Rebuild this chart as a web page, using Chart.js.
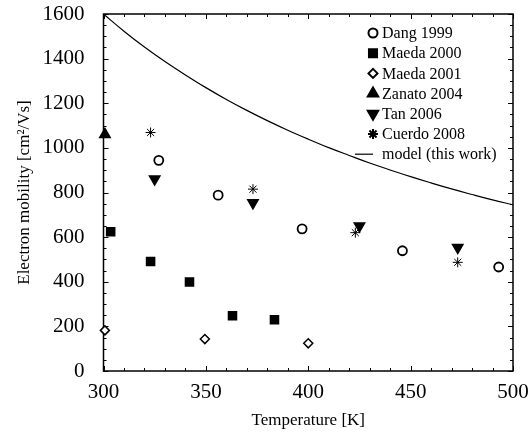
<!DOCTYPE html>
<html>
<head>
<meta charset="utf-8">
<script src="https://cdn.jsdelivr.net/npm/chart.js@4.4.1/dist/chart.umd.min.js"></script>
<style>
	html, body { margin: 0; padding: 0; background: #fff; }
	#box { width: 530px; height: 435px; }
</style>
</head>
<body>
<div id="box"><canvas id="chart"></canvas></div>
<script>
// values
const dangT = [327, 356, 397, 446, 493];
const dangMu = [944, 788, 637, 539, 466];
const maeda2000T = [303.5, 323, 342, 363, 383.5];
const maeda2000Mu = [624, 491, 399, 248, 230];
const maeda2001T = [300.7, 349.5, 400];
const maeda2001Mu = [182, 143, 124];
const zanatoT = [300.7];
const zanatoMu = [1060];
const tanT = [325, 373, 425, 473];
const tanMu = [860, 754, 650, 554];
const cuerdoT = [323, 373, 423, 473];
const cuerdoMu = [1069, 815, 620, 487];
const modelT = [300, 310, 320, 330, 340, 350, 360, 370, 380, 390, 400, 410, 420, 430, 440, 450, 460, 470, 480, 490, 500];
const modelMu = [1600, 1523, 1452, 1387, 1327, 1270, 1217, 1168, 1122, 1079, 1039, 1001, 966, 932, 901, 871, 843, 816, 791, 767, 745];

const xTicks = [300, 350, 400, 450, 500];
const yTicks = [0, 200, 400, 600, 800, 1000, 1200, 1400, 1600];

const serif = '"Liberation Serif", "DejaVu Serif", serif';

function pts(xs, ys) {
	return xs.map((x, i) => { return { x: x, y: ys[i] }; });
}

function scatterSet(label, xs, ys, style, extra={}) {
	return Object.assign({
		type: 'scatter',
		label: label,
		data: pts(xs, ys),
		pointStyle: style,
		borderColor: '#000',
		backgroundColor: '#000',
		borderWidth: 1.5,
		pointRadius: 5,
		clip: false,
	}, extra);
}

// frame with inward major/minor ticks on all four sides
const framePlugin = {
	id: 'frame',
	beforeDatasetsDraw(chart) {
		const ctx = chart.ctx;
		const a = chart.chartArea;
		const xs = chart.scales.x;
		const ys = chart.scales.y;
		ctx.save();
		ctx.strokeStyle = '#000';
		ctx.lineWidth = 1.5;
		ctx.strokeRect(a.left, a.top, a.right - a.left, a.bottom - a.top);
		ctx.lineWidth = 1;
		ctx.beginPath();
		for (let v = 300; v <= 500; v += 10) {
			let px = Math.round(xs.getPixelForValue(v)) + 0.5;
			let len = (v % 50 == 0) ? 5 : 3;
			ctx.moveTo(px, a.bottom); ctx.lineTo(px, a.bottom - len);
			ctx.moveTo(px, a.top); ctx.lineTo(px, a.top + len);
		}
		for (let v = 0; v <= 1600; v += 50) {
			let py = Math.round(ys.getPixelForValue(v)) + 0.5;
			let len = (v % 200 == 0) ? 5 : 3;
			ctx.moveTo(a.left, py); ctx.lineTo(a.left + len, py);
			ctx.moveTo(a.right, py); ctx.lineTo(a.right - len, py);
		}
		ctx.stroke();
		ctx.restore();
	}
};

// legend drawn inside the plot, top right
const legendPlugin = {
	id: 'innerLegend',
	afterDraw(chart) {
		const ctx = chart.ctx;
		const mx = 373, tx = 382, y0 = 33, dy = 20.2;
		ctx.save();
		ctx.font = '16px ' + serif;
		ctx.fillStyle = '#000';
		ctx.textBaseline = 'middle';
		chart.data.datasets.forEach((ds, i) => {
			let y = y0 + i * dy;
			if (ds.type == 'line') {
				ctx.strokeStyle = '#000';
				ctx.lineWidth = 1.2;
				ctx.beginPath();
				ctx.moveTo(355, y); ctx.lineTo(373, y);
				ctx.stroke();
			} else {
				ctx.strokeStyle = '#000';
				ctx.lineWidth = 2;
				ctx.fillStyle = ds.backgroundColor;
				Chart.helpers.drawPoint(ctx, {
					pointStyle: ds.pointStyle,
					rotation: ds.rotation || 0,
					radius: ds.pointRadius,
					borderWidth: 2
				}, mx, y);
				ctx.fillStyle = '#000';
			}
			ctx.fillText(ds.label, tx, y + 1);
		});
		ctx.restore();
	}
};

const datasets = [
	scatterSet('Dang 1999', dangT, dangMu, 'circle', { backgroundColor: '#fff', pointRadius: 4.5, borderWidth: 1.8 }),
	scatterSet('Maeda 2000', maeda2000T, maeda2000Mu, 'rect', { pointRadius: 5.7 }),
	scatterSet('Maeda 2001', maeda2001T, maeda2001Mu, 'rectRot', { backgroundColor: '#fff', pointRadius: 4.5 }),
	scatterSet('Zanato 2004', zanatoT, zanatoMu, 'triangle', { pointRadius: 6 }),
	scatterSet('Tan 2006', tanT, tanMu, 'triangle', { pointRadius: 6, rotation: 180 }),
	scatterSet('Cuerdo 2008', cuerdoT, cuerdoMu, 'star', { pointRadius: 5, borderWidth: 1 }),
	{
		type: 'line',
		label: 'model (this work)',
		data: pts(modelT, modelMu),
		borderColor: '#000',
		borderWidth: 1.2,
		pointRadius: 0,
		tension: 0.4,
		fill: false,
	},
];

new Chart(document.getElementById('chart'), {
	type: 'scatter',
	data: { datasets: datasets },
	plugins: [framePlugin, legendPlugin],
	options: {
		responsive: true,
		maintainAspectRatio: false,
		animation: false,
		layout: { padding: { top: 14, right: 17, left: 0, bottom: 0 } },
		plugins: {
			legend: { display: false },
			tooltip: { enabled: false },
		},
		scales: {
			x: {
				type: 'linear',
				min: 300,
				max: 500,
				afterBuildTicks: (s) => { s.ticks = xTicks.map((v) => { return { value: v }; }); },
				afterFit: (s) => { s.height = 64; s.paddingLeft = 0; s.paddingRight = 0; },
				grid: { display: false },
				border: { display: false },
				ticks: { color: '#000', font: { family: serif, size: 21 }, padding: 1, maxRotation: 0, callback: (v) => String(v) },
				title: { display: true, text: 'Temperature [K]', color: '#000', font: { family: serif, size: 17 }, padding: { top: 2 } },
			},
			y: {
				type: 'linear',
				min: 0,
				max: 1600,
				afterBuildTicks: (s) => { s.ticks = yTicks.map((v) => { return { value: v }; }); },
				afterFit: (s) => { s.width = 103.5; s.paddingTop = 0; s.paddingBottom = 0; },
				grid: { display: false },
				border: { display: false },
				ticks: { color: '#000', font: { family: serif, size: 21 }, padding: 11, callback: (v) => String(v) },
				title: { display: true, text: 'Electron mobility [cm²/Vs]', color: '#000', font: { family: serif, size: 17 }, padding: { top: 14, bottom: 0 } },
			},
		},
	},
});
</script>
</body>
</html>
